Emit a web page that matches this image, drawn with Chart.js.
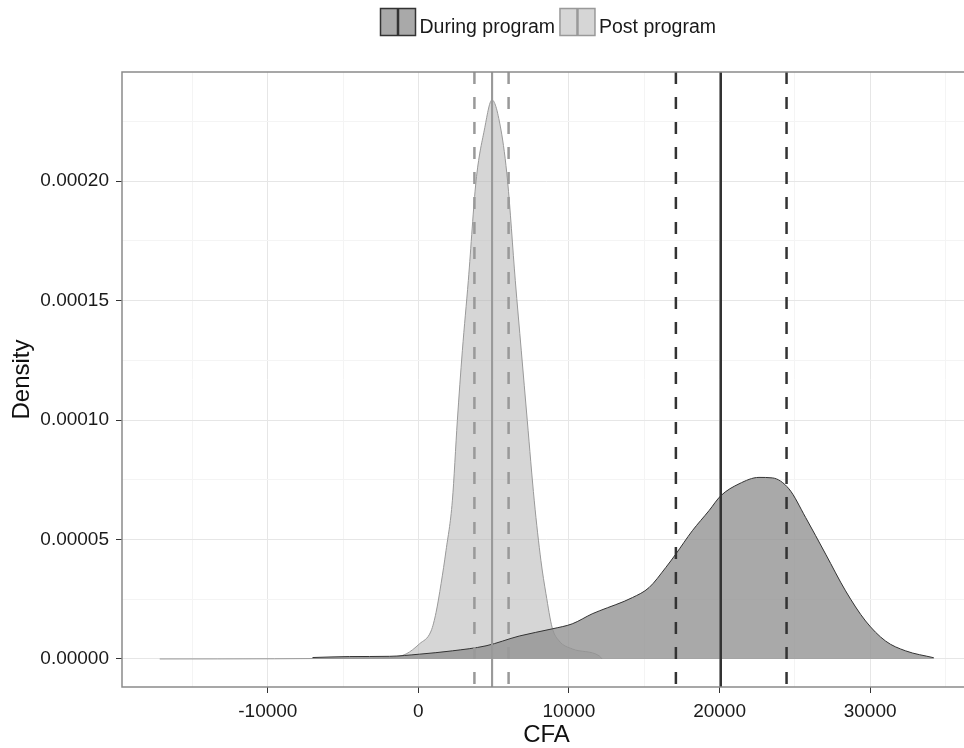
<!DOCTYPE html>
<html lang="en">
<head>
    <meta charset="UTF-8">
    <title>CFA density</title>
    <script src="https://cdn.jsdelivr.net/npm/chart.js"></script>
    <style>
        /* the panel runs a few pixels past the right edge of the window, as in the original */
        html, body { margin: 0; background: #fff; overflow: hidden; }
    </style>
</head>
<body>
    <canvas id="myChart" width="972" height="748"></canvas>
    <script>
        // density curves (CFA on x, density on y)
        const postX = [-17180, -1924, -816, 66, 842, 1174, 1506, 1837, 2255, 2587, 2919, 3317, 3828, 4378, 4890, 5486, 5924, 6434, 6833, 7231, 7695, 8139, 8471, 8889, 9353, 10216, 12007, 12200];
        const postY = [0, 0.0000005, 0.0000021, 0.0000063, 0.0000117, 0.0000195, 0.0000315, 0.0000455, 0.0000662, 0.0000998, 0.000129, 0.0001585, 0.0002, 0.0002214, 0.000234, 0.0002214, 0.0002, 0.0001585, 0.000129, 0.0000998, 0.0000662, 0.0000411, 0.0000273, 0.000013, 0.0000075, 0.0000042, 0.0000013, 0];

        const duringX = [-7032, -4577, -1924, 66, 2255, 4491, 6700, 8889, 10216, 11542, 12007, 14216, 15323, 16431, 17094, 18196, 19303, 20080, 21294, 22620, 23503, 24610, 25718, 27045, 28371, 29698, 31025, 32352, 34229];
        const duringY = [0.0000006, 0.000001, 0.0000011, 0.000002, 0.0000034, 0.0000055, 0.0000096, 0.0000126, 0.0000147, 0.0000189, 0.0000201, 0.0000257, 0.0000299, 0.0000383, 0.0000439, 0.0000537, 0.0000621, 0.0000683, 0.0000733, 0.000076, 0.0000758, 0.0000712, 0.0000592, 0.0000439, 0.0000285, 0.0000159, 0.0000075, 0.0000034, 0.0000005];

        // lower, mean, upper
        const duringStats = [17100, 20080, 24450];
        const postStats = [3720, 4890, 5990];

        const seriesNames = ['During program', 'Post program'];

        // axes
        const X_MIN = -19685, X_MAX = 36700;
        const Y_MIN = -0.00001174, Y_MAX = 0.0002457;
        const xMajor = [-10000, 0, 10000, 20000, 30000];
        const xMinor = [-15000, -5000, 5000, 15000, 25000, 35000];
        const yMajor = [0, 0.00005, 0.0001, 0.00015, 0.0002];
        const yMinor = [0.000025, 0.000075, 0.000125, 0.000175, 0.000225];
        const xLabels = ['-10000', '0', '10000', '20000', '30000'];
        const yLabels = ['0.00000', '0.00005', '0.00010', '0.00015', '0.00020'];

        const FONT = "'Liberation Sans', Arial, sans-serif";
        const duringStyle = { fill: 'rgba(148,148,148,0.8)', line: '#333333', key: '#a9a9a9' };
        const postStyle = { fill: 'rgba(173,173,173,0.5)', line: '#999999', key: '#d6d6d6' };

        function toPoints(xs, ys) {
            return xs.map((x, i) => ({ x: x, y: ys[i] }));
        }
        function vline(x) {
            return [{ x: x, y: Y_MAX }, { x: x, y: Y_MIN }];
        }
        function setTicks(major, minor, labels) {
            return function (scale) {
                const t = major.map((v, i) => ({ value: v, isMajor: true, label: labels[i] }))
                    .concat(minor.map(v => ({ value: v, isMajor: false, label: '' })));
                t.sort((a, b) => a.value - b.value);
                scale.ticks = t;
            };
        }

        const densityBase = { pointRadius: 0, borderWidth: 1, cubicInterpolationMode: 'monotone', fill: 'origin' };
        const lineBase = { pointRadius: 0, fill: false, order: 0 };

        const datasets = [
            Object.assign({}, lineBase, { data: vline(duringStats[1]), borderColor: duringStyle.line, borderWidth: 2.5 }),
            Object.assign({}, lineBase, { data: vline(duringStats[0]), borderColor: duringStyle.line, borderWidth: 2.5, borderDash: [12, 13] }),
            Object.assign({}, lineBase, { data: vline(duringStats[2]), borderColor: duringStyle.line, borderWidth: 2.5, borderDash: [12, 13] }),
            Object.assign({}, lineBase, { data: vline(postStats[1]), borderColor: postStyle.line, borderWidth: 2 }),
            Object.assign({}, lineBase, { data: vline(postStats[0]), borderColor: postStyle.line, borderWidth: 2.5, borderDash: [12, 13] }),
            Object.assign({}, lineBase, { data: vline(postStats[2]), borderColor: postStyle.line, borderWidth: 2.5, borderDash: [12, 13] }),
            Object.assign({}, densityBase, { label: seriesNames[0], data: toPoints(duringX, duringY), borderColor: duringStyle.line, backgroundColor: duringStyle.fill, order: 1 }),
            Object.assign({}, densityBase, { label: seriesNames[1], data: toPoints(postX, postY), borderColor: postStyle.line, backgroundColor: postStyle.fill, order: 2 })
        ];

        // panel frame + ggplot style legend at the top
        const frame = {
            id: 'frame',
            afterDatasetsDraw(chart) {
                const a = chart.chartArea;
                const ctx = chart.ctx;
                ctx.save();
                ctx.strokeStyle = '#8a8a8a';
                ctx.lineWidth = 1.5;
                ctx.strokeRect(a.left, a.top, a.right - a.left, a.bottom - a.top);
                ctx.restore();
            },
            afterDraw(chart) {
                const ctx = chart.ctx;
                const styles = [duringStyle, postStyle];
                ctx.save();
                ctx.font = '19.5px ' + FONT;
                const boxW = 35, boxH = 27, gap = 4, itemGap = 5;
                let x = 380.5;
                const top = 8.5;
                seriesNames.forEach((name, i) => {
                    const st = styles[i];
                    ctx.fillStyle = st.key;
                    ctx.fillRect(x, top, boxW, boxH);
                    ctx.strokeStyle = st.line;
                    ctx.lineWidth = 1.5;
                    ctx.strokeRect(x, top, boxW, boxH);
                    ctx.lineWidth = 2.5;
                    ctx.beginPath();
                    ctx.moveTo(x + boxW / 2, top);
                    ctx.lineTo(x + boxW / 2, top + boxH);
                    ctx.stroke();
                    ctx.fillStyle = '#1a1a1a';
                    ctx.textBaseline = 'alphabetic';
                    ctx.fillText(name, x + boxW + gap, 33);
                    x += boxW + gap + ctx.measureText(name).width + itemGap;
                });
                ctx.restore();
            }
        };

        const gridColor = ctx => (ctx.tick && ctx.tick.isMajor) ? '#e6e6e6' : '#f4f4f4';
        const tickColor = ctx => (ctx.tick && ctx.tick.isMajor) ? '#333333' : 'rgba(0,0,0,0)';

        new Chart(document.getElementById('myChart'), {
            type: 'line',
            data: { datasets: datasets },
            options: {
                responsive: false,
                animation: false,
                events: [],
                layout: { padding: { top: 72, right: 1, left: 0, bottom: 0 } },
                plugins: { legend: { display: false }, tooltip: { enabled: false } },
                scales: {
                    x: {
                        type: 'linear',
                        min: X_MIN,
                        max: X_MAX,
                        afterBuildTicks: setTicks(xMajor, xMinor, xLabels),
                        afterFit(scale) { scale.height = 61; },
                        border: { display: false },
                        grid: { color: gridColor, tickColor: tickColor, tickLength: 6, lineWidth: 1 },
                        ticks: {
                            autoSkip: false,
                            maxRotation: 0,
                            padding: 7,
                            color: '#1a1a1a',
                            font: { family: FONT, size: 19 },
                            callback: (v, i, ticks) => ticks[i].label
                        },
                        title: {
                            display: true,
                            text: 'CFA',
                            color: '#111',
                            font: { family: FONT, size: 24, lineHeight: 1 },
                            padding: { top: 0, bottom: 1 }
                        }
                    },
                    y: {
                        type: 'linear',
                        min: Y_MIN,
                        max: Y_MAX,
                        afterBuildTicks: setTicks(yMajor, yMinor, yLabels),
                        afterFit(scale) { scale.width = 122; },
                        border: { display: false },
                        grid: { color: gridColor, tickColor: tickColor, tickLength: 6, lineWidth: 1 },
                        ticks: {
                            autoSkip: false,
                            padding: 7,
                            color: '#1a1a1a',
                            font: { family: FONT, size: 19 },
                            callback: (v, i, ticks) => ticks[i].label
                        },
                        title: {
                            display: true,
                            text: 'Density',
                            color: '#111',
                            font: { family: FONT, size: 24, lineHeight: 1.2 },
                            padding: { top: 8, bottom: 0 }
                        }
                    }
                }
            },
            plugins: [frame]
        });
    </script>
</body>
</html>
